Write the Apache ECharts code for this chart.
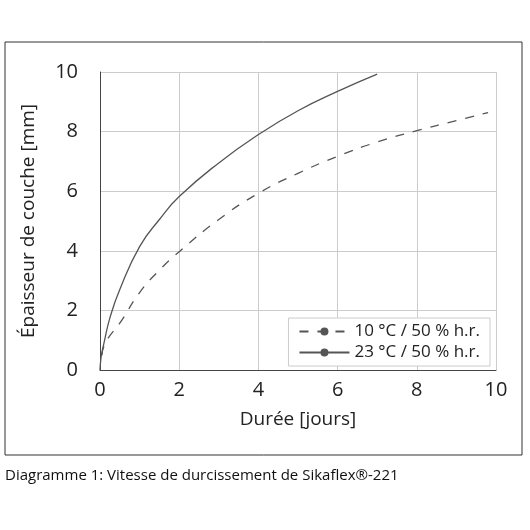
<!DOCTYPE html><html><head><meta charset="utf-8"><script src="https://cdn.jsdelivr.net/npm/echarts@6/dist/echarts.min.js"></script></head><body style="margin:0"><div id="c" style="width:530px;height:530px"></div><script>
const xTicks=[0,2,4,6,8,10];
const dashX=[0.05,0.1,0.25,0.5,1,1.5,2,3,4,5,6,7,8,9,9.8];
const dashY=[0.5,0.8,1.15,1.57,2.6,3.35,3.97,5.05,5.93,6.6,7.17,7.65,8.03,8.37,8.64];
const solidX=[0,0.02,0.05,0.1,0.25,0.5,1,1.5,2,3,4,5,6,7];
const solidY=[0,0.35,0.6,0.9,1.75,2.7,4.14,5.05,5.82,6.95,7.9,8.7,9.35,9.93];
const names=['10 °C / 50 % h.r.','23 °C / 50 % h.r.'];
const F='"Open Sans",sans-serif';
const ch=echarts.init(document.getElementById('c'));
ch.setOption({animation:false,
graphic:[{type:'rect',shape:{x:5,y:42,width:517,height:413},style:{fill:'none',stroke:'#333',lineWidth:1}},
{type:'text',left:5,top:468,style:{text:'Diagramme 1: Vitesse de durcissement de Sikaflex®-221',fontSize:15,fontFamily:F,fill:'#111'}}],
grid:{left:100,right:34,top:72,bottom:160},
legend:{show:true,right:40,top:318,orient:'vertical',itemWidth:50,itemHeight:10,itemGap:4,backgroundColor:'#fff',borderColor:'#ccc',borderWidth:1,padding:[5,10],textStyle:{fontSize:17,fontFamily:F,color:'#222'},data:names},
xAxis:{type:'value',min:0,max:10,interval:2,name:'Durée [jours]',nameLocation:'middle',nameGap:40,nameTextStyle:{fontSize:19,fontFamily:F,color:'#222'},
axisLabel:{fontSize:20,fontFamily:F,color:'#222',margin:10},axisLine:{lineStyle:{color:'#444'}},axisTick:{show:false},
splitLine:{lineStyle:{color:'#ccc'}}},
yAxis:{type:'value',min:0,max:10,interval:2,name:'Épaisseur de couche [mm]',nameLocation:'middle',nameGap:62,nameTextStyle:{fontSize:19,fontFamily:F,color:'#222'},
axisLabel:{fontSize:20,fontFamily:F,color:'#222',margin:22},axisLine:{show:true,lineStyle:{color:'#444'}},axisTick:{show:false},
splitLine:{lineStyle:{color:'#ccc'}}},
series:[{name:names[0],type:'line',smooth:true,symbol:'none',data:dashX.map((x,i)=>[x,dashY[i]]),lineStyle:{color:'#555',width:1.3,type:[9,9]},itemStyle:{color:'#555'}},
{name:names[1],type:'line',smooth:true,symbol:'none',data:solidX.map((x,i)=>[x,solidY[i]]),lineStyle:{color:'#555',width:1.3},itemStyle:{color:'#555'}}]});
</script></body></html>
